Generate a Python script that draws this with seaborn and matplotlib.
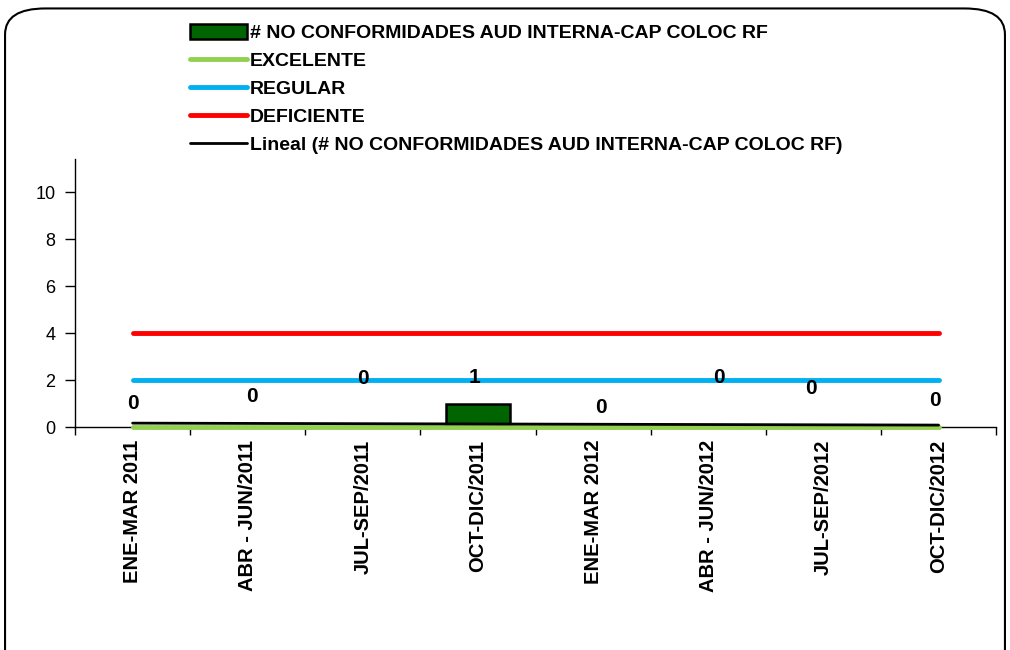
import numpy as np
import matplotlib
matplotlib.use('Agg')
import matplotlib.pyplot as plt
from matplotlib.patches import Patch, FancyBboxPatch
from matplotlib.lines import Line2D
import seaborn as sns

# datos
periodos = ['ENE-MAR 2011', 'ABR - JUN/2011', 'JUL-SEP/2011', 'OCT-DIC/2011',
            'ENE-MAR 2012', 'ABR - JUN/2012', 'JUL-SEP/2012', 'OCT-DIC/2012']
no_conformidades = [0, 0, 0, 1, 0, 0, 0, 0]
excelente = [0, 0, 0, 0, 0, 0, 0, 0]
regular = [2, 2, 2, 2, 2, 2, 2, 2]
deficiente = [4, 4, 4, 4, 4, 4, 4, 4]

# posicion (movida a mano) de las etiquetas de datos
etiqueta_dx = [0, 0.04, 0, -0.03, 0.07, 0.09, -0.11, -0.03]
etiqueta_y = [1.0, 1.3, 2.05, 2.1, 0.85, 2.1, 1.65, 1.15]

sns.set_style('white')
plt.rcParams['font.family'] = ['Liberation Sans', 'DejaVu Sans']
plt.rcParams['text.color'] = 'black'
plt.rcParams['xtick.color'] = 'black'
plt.rcParams['ytick.color'] = 'black'

fig = plt.figure(figsize=(10.1, 6.5), dpi=100)
ax = fig.add_axes([0.0743, 0.343, 0.912, 0.412])

x = np.arange(len(periodos))

sns.barplot(x=periodos, y=no_conformidades, color='#006400', saturation=1,
            edgecolor='black', linewidth=1.8, width=0.56, ax=ax, zorder=2)
# barras en cero sin borde
for p in ax.patches:
    if p.get_height() == 0:
        p.set_linewidth(0)

# tendencia lineal
pendiente, intercepto = np.polyfit(x, no_conformidades, 1)
tendencia = pendiente * x + intercepto

sns.lineplot(x=x, y=regular, color='#00B0F0', lw=3.5, ax=ax,
             solid_capstyle='round', zorder=3)
sns.lineplot(x=x, y=deficiente, color='#FF0000', lw=3.5, ax=ax,
             solid_capstyle='round', zorder=3)
sns.lineplot(x=x, y=excelente, color='#92D050', lw=3.5, ax=ax,
             solid_capstyle='round', zorder=4, clip_on=False)
sns.lineplot(x=x, y=tendencia, color='black', lw=2, ax=ax, zorder=4,
             clip_on=False)

for i, v in enumerate(no_conformidades):
    ax.text(i + etiqueta_dx[i], etiqueta_y[i], str(v), ha='center', va='center',
            fontsize=15, fontweight='bold', zorder=5)

ax.set_xlim(-0.5, len(periodos) - 0.5)
ax.set_ylim(0, 11.4)
ax.set_yticks([0, 2, 4, 6, 8, 10])
ax.tick_params(axis='y', direction='out', length=7, width=1, labelsize=13,
               left=True, color='black', pad=7)

ax.set_xticks(x)
ax.set_xticklabels(periodos, rotation=90, fontsize=14.5, fontweight='bold')
ax.set_xticks(np.arange(-0.5, len(periodos)), minor=True)
ax.tick_params(axis='x', which='major', length=0, pad=9)
ax.tick_params(axis='x', which='minor', direction='out', length=6, width=1,
               bottom=True, color='black')

sns.despine(ax=ax)
for s in ['left', 'bottom']:
    ax.spines[s].set_color('black')
    ax.spines[s].set_linewidth(1)

handles = [
    Patch(facecolor='#006400', edgecolor='black', linewidth=1.8),
    Line2D([], [], color='#92D050', lw=3.5, solid_capstyle='round'),
    Line2D([], [], color='#00B0F0', lw=3.5, solid_capstyle='round'),
    Line2D([], [], color='#FF0000', lw=3.5, solid_capstyle='round'),
    Line2D([], [], color='black', lw=2),
]
labels = ['# NO CONFORMIDADES AUD INTERNA-CAP COLOC RF', 'EXCELENTE', 'REGULAR',
          'DEFICIENTE', 'Lineal (# NO CONFORMIDADES AUD INTERNA-CAP COLOC RF)']
fig.legend(handles, labels, loc='upper left', bbox_to_anchor=(0.171, 0.99),
           frameon=False, handlelength=2.9, handleheight=0.8, handletextpad=0.15,
           labelspacing=0.5, prop={'weight': 'bold', 'size': 14})

fig.patches.append(FancyBboxPatch((0.005, -0.05), 0.99, 1.037,
                                  boxstyle='round,pad=0,rounding_size=0.04',
                                  transform=fig.transFigure, fill=False,
                                  ec='black', lw=1.5))

fig.savefig('out.png', dpi=100)
